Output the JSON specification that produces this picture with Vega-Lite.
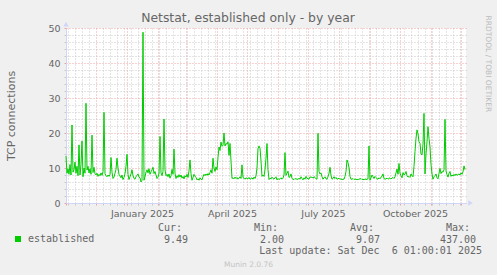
{
"$schema": "https://vega.github.io/schema/vega-lite/v6.json",
"width": 400, "height": 175,
"autosize": {"type": "none"},
"padding": {"left": 66, "top": 28, "right": 31, "bottom": 72},
"background": "#f0f0f0",
"title": {"text": "Netstat, established only - by year", "font": "DejaVu Sans", "fontSize": 12.4, "fontWeight": "normal", "color": "#666666", "anchor": "middle", "frame": "group", "dx": -18, "offset": -19, "baseline": "alphabetic"},
"config": {
  "view": {"fill": "#ffffff", "stroke": null},
  "axis": {"labelFont": "DejaVu Sans", "labelFontSize": 9.5, "labelColor": "#666666", "titleFont": "DejaVu Sans", "titleFontWeight": "normal", "titleColor": "#666666", "domainColor": "#cfd6f8", "gridDash": [1, 2], "tickSize": 2}
},
"layer": [
  {
    "data": {"values": [
{"date":"2024-11-01","value":13.4},{"date":"2024-11-02","value":8.5},{"date":"2024-11-03","value":9.8},{"date":"2024-11-04","value":8.2},{"date":"2024-11-05","value":11},{"date":"2024-11-06","value":8},{"date":"2024-11-07","value":22.3},{"date":"2024-11-08","value":8.8},{"date":"2024-11-09","value":9.5},{"date":"2024-11-10","value":11.7},
{"date":"2024-11-11","value":8.5},{"date":"2024-11-12","value":10.5},{"date":"2024-11-13","value":7.8},{"date":"2024-11-14","value":16.6},{"date":"2024-11-15","value":8},{"date":"2024-11-16","value":11},{"date":"2024-11-17","value":17.7},{"date":"2024-11-18","value":7.5},{"date":"2024-11-19","value":10},{"date":"2024-11-20","value":8.5},
{"date":"2024-11-21","value":28.5},{"date":"2024-11-22","value":9.4},{"date":"2024-11-23","value":10.5},{"date":"2024-11-24","value":8.6},{"date":"2024-11-25","value":9.8},{"date":"2024-11-26","value":8.2},{"date":"2024-11-27","value":19.4},{"date":"2024-11-28","value":8.7},{"date":"2024-11-29","value":10.2},{"date":"2024-11-30","value":8.4},
{"date":"2024-12-01","value":8},{"date":"2024-12-02","value":8.5},{"date":"2024-12-03","value":7.6},{"date":"2024-12-04","value":8.2},{"date":"2024-12-05","value":7.8},{"date":"2024-12-06","value":8.6},{"date":"2024-12-07","value":7.9},{"date":"2024-12-08","value":9},{"date":"2024-12-09","value":25.9},{"date":"2024-12-10","value":8.4},
{"date":"2024-12-11","value":7.8},{"date":"2024-12-12","value":7.5},{"date":"2024-12-13","value":8},{"date":"2024-12-14","value":7.6},{"date":"2024-12-15","value":8.1},{"date":"2024-12-16","value":13},{"date":"2024-12-17","value":8.8},{"date":"2024-12-18","value":7},{"date":"2024-12-19","value":7.4},{"date":"2024-12-20","value":8.5},
{"date":"2024-12-21","value":9.6},{"date":"2024-12-22","value":12.8},{"date":"2024-12-23","value":10},{"date":"2024-12-24","value":8.2},{"date":"2024-12-25","value":7.7},{"date":"2024-12-26","value":7.2},{"date":"2024-12-27","value":8},{"date":"2024-12-28","value":6.7},{"date":"2024-12-29","value":7.3},{"date":"2024-12-30","value":8.4},
{"date":"2024-12-31","value":10.5},{"date":"2025-01-01","value":13.9},{"date":"2025-01-02","value":8.2},{"date":"2025-01-03","value":6.7},{"date":"2025-01-04","value":7.5},{"date":"2025-01-05","value":8.3},{"date":"2025-01-06","value":9.5},{"date":"2025-01-07","value":7.8},{"date":"2025-01-08","value":7},{"date":"2025-01-09","value":6.8},
{"date":"2025-01-10","value":7.5},{"date":"2025-01-11","value":7.9},{"date":"2025-01-12","value":8.3},{"date":"2025-01-13","value":7.4},{"date":"2025-01-14","value":7.2},{"date":"2025-01-15","value":6},{"date":"2025-01-16","value":6.5},{"date":"2025-01-17","value":48.8},{"date":"2025-01-18","value":6.5},{"date":"2025-01-19","value":7.5},
{"date":"2025-01-20","value":8.8},{"date":"2025-01-21","value":9.5},{"date":"2025-01-22","value":8.6},{"date":"2025-01-23","value":9.8},{"date":"2025-01-24","value":8.2},{"date":"2025-01-25","value":8.9},{"date":"2025-01-26","value":9.5},{"date":"2025-01-27","value":10.2},{"date":"2025-01-28","value":8.4},{"date":"2025-01-29","value":9},
{"date":"2025-01-30","value":8},{"date":"2025-01-31","value":7},{"date":"2025-02-01","value":7.4},{"date":"2025-02-02","value":8.5},{"date":"2025-02-03","value":19},{"date":"2025-02-04","value":8.6},{"date":"2025-02-05","value":7.8},{"date":"2025-02-06","value":9},{"date":"2025-02-07","value":24},{"date":"2025-02-08","value":9.5},
{"date":"2025-02-09","value":7.8},{"date":"2025-02-10","value":8.2},{"date":"2025-02-11","value":7.5},{"date":"2025-02-12","value":8.3},{"date":"2025-02-13","value":7.1},{"date":"2025-02-14","value":7.8},{"date":"2025-02-15","value":9.6},{"date":"2025-02-16","value":8.2},{"date":"2025-02-17","value":15.4},{"date":"2025-02-18","value":8.5},
{"date":"2025-02-19","value":7},{"date":"2025-02-20","value":7.8},{"date":"2025-02-21","value":7.3},{"date":"2025-02-22","value":8.1},{"date":"2025-02-23","value":7.4},{"date":"2025-02-24","value":8},{"date":"2025-02-25","value":7.1},{"date":"2025-02-26","value":7.6},{"date":"2025-02-27","value":6.9},{"date":"2025-02-28","value":7.8},
{"date":"2025-03-01","value":7.4},{"date":"2025-03-02","value":8.2},{"date":"2025-03-03","value":7.3},{"date":"2025-03-04","value":9.2},{"date":"2025-03-05","value":12.3},{"date":"2025-03-06","value":8.4},{"date":"2025-03-07","value":6.5},{"date":"2025-03-08","value":7.3},{"date":"2025-03-09","value":8.2},{"date":"2025-03-10","value":7.7},
{"date":"2025-03-11","value":7.3},{"date":"2025-03-12","value":6.6},{"date":"2025-03-13","value":6.9},{"date":"2025-03-14","value":6.5},{"date":"2025-03-15","value":7.2},{"date":"2025-03-16","value":6.8},{"date":"2025-03-17","value":6.6},{"date":"2025-03-18","value":7.5},{"date":"2025-03-19","value":8.2},{"date":"2025-03-20","value":7.8},
{"date":"2025-03-21","value":8.3},{"date":"2025-03-22","value":7.9},{"date":"2025-03-23","value":8.4},{"date":"2025-03-24","value":8},{"date":"2025-03-25","value":8.7},{"date":"2025-03-26","value":9.5},{"date":"2025-03-27","value":8.5},{"date":"2025-03-28","value":12.8},{"date":"2025-03-29","value":10},{"date":"2025-03-30","value":9},
{"date":"2025-03-31","value":10.3},{"date":"2025-04-01","value":9.5},{"date":"2025-04-02","value":13},{"date":"2025-04-03","value":16},{"date":"2025-04-04","value":15},{"date":"2025-04-05","value":17.4},{"date":"2025-04-06","value":16.2},{"date":"2025-04-07","value":16.5},{"date":"2025-04-08","value":20},{"date":"2025-04-09","value":16.3},
{"date":"2025-04-10","value":17},{"date":"2025-04-11","value":16.8},{"date":"2025-04-12","value":17.5},{"date":"2025-04-13","value":13.6},{"date":"2025-04-14","value":17},{"date":"2025-04-15","value":12},{"date":"2025-04-16","value":7},{"date":"2025-04-17","value":7.2},{"date":"2025-04-18","value":6.9},{"date":"2025-04-19","value":7.4},
{"date":"2025-04-20","value":7},{"date":"2025-04-21","value":7.3},{"date":"2025-04-22","value":6.8},{"date":"2025-04-23","value":7.1},{"date":"2025-04-24","value":7.5},{"date":"2025-04-25","value":7},{"date":"2025-04-26","value":10.9},{"date":"2025-04-27","value":7.3},{"date":"2025-04-28","value":7.1},{"date":"2025-04-29","value":6.8},
{"date":"2025-04-30","value":7.2},{"date":"2025-05-01","value":7},{"date":"2025-05-02","value":6.9},{"date":"2025-05-03","value":7.3},{"date":"2025-05-04","value":6.8},{"date":"2025-05-05","value":7},{"date":"2025-05-06","value":7.2},{"date":"2025-05-07","value":6.8},{"date":"2025-05-08","value":7.4},{"date":"2025-05-09","value":7},
{"date":"2025-05-10","value":7.8},{"date":"2025-05-11","value":10},{"date":"2025-05-12","value":15.5},{"date":"2025-05-13","value":16.3},{"date":"2025-05-14","value":15.7},{"date":"2025-05-15","value":12},{"date":"2025-05-16","value":7.6},{"date":"2025-05-17","value":8},{"date":"2025-05-18","value":7.6},{"date":"2025-05-19","value":9.5},
{"date":"2025-05-20","value":12.8},{"date":"2025-05-21","value":17},{"date":"2025-05-22","value":9.5},{"date":"2025-05-23","value":6.7},{"date":"2025-05-24","value":7.1},{"date":"2025-05-25","value":6.9},{"date":"2025-05-26","value":7.4},{"date":"2025-05-27","value":7},{"date":"2025-05-28","value":6.8},{"date":"2025-05-29","value":7.2},
{"date":"2025-05-30","value":7.5},{"date":"2025-05-31","value":6.6},{"date":"2025-06-01","value":7},{"date":"2025-06-02","value":6.7},{"date":"2025-06-03","value":6.9},{"date":"2025-06-04","value":7.2},{"date":"2025-06-05","value":6.8},{"date":"2025-06-06","value":7.1},{"date":"2025-06-07","value":8},{"date":"2025-06-08","value":14.4},
{"date":"2025-06-09","value":7.9},{"date":"2025-06-10","value":8.5},{"date":"2025-06-11","value":9.1},{"date":"2025-06-12","value":7.3},{"date":"2025-06-13","value":7.5},{"date":"2025-06-14","value":8.3},{"date":"2025-06-15","value":7},{"date":"2025-06-16","value":6.8},{"date":"2025-06-17","value":6.7},{"date":"2025-06-18","value":7},
{"date":"2025-06-19","value":6.8},{"date":"2025-06-20","value":6.9},{"date":"2025-06-21","value":6.7},{"date":"2025-06-22","value":7.1},{"date":"2025-06-23","value":6.8},{"date":"2025-06-24","value":7.5},{"date":"2025-06-25","value":7},{"date":"2025-06-26","value":6.6},{"date":"2025-06-27","value":7.2},{"date":"2025-06-28","value":6.8},
{"date":"2025-06-29","value":7.6},{"date":"2025-06-30","value":7.1},{"date":"2025-07-01","value":6.9},{"date":"2025-07-02","value":6.8},{"date":"2025-07-03","value":7.5},{"date":"2025-07-04","value":7.3},{"date":"2025-07-05","value":7.4},{"date":"2025-07-06","value":7.1},{"date":"2025-07-07","value":7.5},{"date":"2025-07-08","value":7.3},
{"date":"2025-07-09","value":6.9},{"date":"2025-07-10","value":6.8},{"date":"2025-07-11","value":19.9},{"date":"2025-07-12","value":9},{"date":"2025-07-13","value":8.3},{"date":"2025-07-14","value":8.6},{"date":"2025-07-15","value":7.5},{"date":"2025-07-16","value":6.8},{"date":"2025-07-17","value":7.2},{"date":"2025-07-18","value":7.5},
{"date":"2025-07-19","value":6.9},{"date":"2025-07-20","value":6.8},{"date":"2025-07-21","value":7.5},{"date":"2025-07-22","value":8.5},{"date":"2025-07-23","value":10.2},{"date":"2025-07-24","value":7.9},{"date":"2025-07-25","value":6.8},{"date":"2025-07-26","value":7},{"date":"2025-07-27","value":7.5},{"date":"2025-07-28","value":7},
{"date":"2025-07-29","value":7.3},{"date":"2025-07-30","value":6.8},{"date":"2025-07-31","value":6.9},{"date":"2025-08-01","value":7.1},{"date":"2025-08-02","value":6.8},{"date":"2025-08-03","value":6.9},{"date":"2025-08-04","value":6.7},{"date":"2025-08-05","value":6.8},{"date":"2025-08-06","value":6.8},{"date":"2025-08-07","value":7.6},
{"date":"2025-08-08","value":9},{"date":"2025-08-09","value":12.3},{"date":"2025-08-10","value":11.5},{"date":"2025-08-11","value":10.2},{"date":"2025-08-12","value":7.6},{"date":"2025-08-13","value":6.8},{"date":"2025-08-14","value":6.8},{"date":"2025-08-15","value":7},{"date":"2025-08-16","value":6.7},{"date":"2025-08-17","value":6.9},
{"date":"2025-08-18","value":6.7},{"date":"2025-08-19","value":6.8},{"date":"2025-08-20","value":6.6},{"date":"2025-08-21","value":6.9},{"date":"2025-08-22","value":6.8},{"date":"2025-08-23","value":7},{"date":"2025-08-24","value":6.7},{"date":"2025-08-25","value":6.8},{"date":"2025-08-26","value":6.6},{"date":"2025-08-27","value":6.9},
{"date":"2025-08-28","value":6.7},{"date":"2025-08-29","value":6.8},{"date":"2025-08-30","value":6.9},{"date":"2025-08-31","value":16.3},{"date":"2025-09-01","value":6.5},{"date":"2025-09-02","value":7.2},{"date":"2025-09-03","value":8},{"date":"2025-09-04","value":7.5},{"date":"2025-09-05","value":7},{"date":"2025-09-06","value":7.6},
{"date":"2025-09-07","value":7.3},{"date":"2025-09-08","value":6.9},{"date":"2025-09-09","value":6.8},{"date":"2025-09-10","value":7.2},{"date":"2025-09-11","value":6.9},{"date":"2025-09-12","value":7.4},{"date":"2025-09-13","value":7.6},{"date":"2025-09-14","value":8.3},{"date":"2025-09-15","value":7},{"date":"2025-09-16","value":6.8},
{"date":"2025-09-17","value":6.9},{"date":"2025-09-18","value":7.1},{"date":"2025-09-19","value":6.8},{"date":"2025-09-20","value":7},{"date":"2025-09-21","value":7.2},{"date":"2025-09-22","value":6.9},{"date":"2025-09-23","value":7.1},{"date":"2025-09-24","value":7.3},{"date":"2025-09-25","value":7},{"date":"2025-09-26","value":7.5},
{"date":"2025-09-27","value":8.6},{"date":"2025-09-28","value":9.7},{"date":"2025-09-29","value":8.2},{"date":"2025-09-30","value":11.3},{"date":"2025-10-01","value":8.5},{"date":"2025-10-02","value":7.8},{"date":"2025-10-03","value":7.2},{"date":"2025-10-04","value":8.7},{"date":"2025-10-05","value":8},{"date":"2025-10-06","value":8.3},
{"date":"2025-10-07","value":9},{"date":"2025-10-08","value":7.8},{"date":"2025-10-09","value":7.4},{"date":"2025-10-10","value":7.6},{"date":"2025-10-11","value":7.3},{"date":"2025-10-12","value":8.3},{"date":"2025-10-13","value":7.8},{"date":"2025-10-14","value":7.5},{"date":"2025-10-15","value":10.5},{"date":"2025-10-16","value":14.7},
{"date":"2025-10-17","value":18.5},{"date":"2025-10-18","value":20.9},{"date":"2025-10-19","value":19.8},{"date":"2025-10-20","value":17.5},{"date":"2025-10-21","value":17.1},{"date":"2025-10-22","value":14},{"date":"2025-10-23","value":13.7},{"date":"2025-10-24","value":16.8},{"date":"2025-10-25","value":25.6},{"date":"2025-10-26","value":8.3},
{"date":"2025-10-27","value":14},{"date":"2025-10-28","value":17.5},{"date":"2025-10-29","value":21.8},{"date":"2025-10-30","value":18.5},{"date":"2025-10-31","value":16},{"date":"2025-11-01","value":11},{"date":"2025-11-02","value":8.3},{"date":"2025-11-03","value":6.8},{"date":"2025-11-04","value":7.5},{"date":"2025-11-05","value":7.8},
{"date":"2025-11-06","value":8.3},{"date":"2025-11-07","value":7.2},{"date":"2025-11-08","value":6.9},{"date":"2025-11-09","value":8.5},{"date":"2025-11-10","value":9.9},{"date":"2025-11-11","value":8.4},{"date":"2025-11-12","value":9},{"date":"2025-11-13","value":8.8},{"date":"2025-11-14","value":9.5},{"date":"2025-11-15","value":23.9},
{"date":"2025-11-16","value":9.2},{"date":"2025-11-17","value":8.1},{"date":"2025-11-18","value":7.4},{"date":"2025-11-19","value":8.5},{"date":"2025-11-20","value":9},{"date":"2025-11-21","value":7.6},{"date":"2025-11-22","value":8},{"date":"2025-11-23","value":7.7},{"date":"2025-11-24","value":8.2},{"date":"2025-11-25","value":7.8},
{"date":"2025-11-26","value":8.3},{"date":"2025-11-27","value":7.9},{"date":"2025-11-28","value":8.1},{"date":"2025-11-29","value":8.3},{"date":"2025-11-30","value":8},{"date":"2025-12-01","value":8.6},{"date":"2025-12-02","value":8.2},{"date":"2025-12-03","value":8.9},{"date":"2025-12-04","value":10.6},{"date":"2025-12-05","value":9.5}
    ]},
    "mark": {"type": "line", "strokeWidth": 1, "color": "#00cc00"},
    "encoding": {
      "x": {"field": "date", "type": "temporal",
            "scale": {"type": "utc", "domain": [{"year": 2024, "month": 11, "date": 1, "utc": true}, {"year": 2025, "month": 12, "date": 6, "utc": true}]},
            "axis": {
              "tickCount": {"interval": "day", "step": 1},
              "grid": true,
              "gridColor": {"condition": {"test": "utcdate(datum.value) === 1", "value": "#f0a0a0"}, "value": "#c8c8c8"},
              "gridOpacity": {"condition": {"test": "utcdate(datum.value) === 1 || utcday(datum.value) === 0", "value": 1}, "value": 0},
              "tickColor": {"condition": {"test": "utcdate(datum.value) === 1", "value": "#f0a0a0"}, "value": "#c8c8c8"},
              "tickOpacity": {"condition": {"test": "utcdate(datum.value) === 1 || utcday(datum.value) === 0", "value": 1}, "value": 0},
              "labelExpr": "(utcdate(datum.value) === 16 && utcmonth(datum.value) % 3 === 0) ? utcFormat(datum.value, '%B %Y') : ''",
              "labelOverlap": false, "labelFlush": false, "labelBound": false, "labelPadding": 3,
              "title": "Munin 2.0.76", "titleX": 182, "titleY": 61, "titleAlign": "center", "titleBaseline": "middle",
              "titleFontSize": 7.5, "titleColor": "#c4c4c4"
            }},
      "y": {"field": "value", "type": "quantitative",
            "scale": {"domain": [0, 50]},
            "axis": {
              "orient": "left",
              "values": [0,2,4,6,8,10,12,14,16,18,20,22,24,26,28,30,32,34,36,38,40,42,44,46,48,50],
              "grid": true,
              "gridColor": {"condition": {"test": "datum.value % 10 === 0", "value": "#f0a0a0"}, "value": "#c8c8c8"},
              "tickColor": {"condition": {"test": "datum.value % 10 === 0", "value": "#f0a0a0"}, "value": "#c8c8c8"},
              "labelExpr": "datum.value % 10 === 0 ? datum.label : ''",
              "labelOverlap": false, "labelPadding": 4,
              "title": "TCP connections", "titleFontSize": 11, "titlePadding": 31.5
            }},
      "color": {"datum": "established", "type": "nominal",
                "scale": {"range": ["#00cc00"]},
                "legend": {"orient": "none", "legendX": -53, "legendY": 206, "title": null,
                           "symbolType": "square", "symbolSize": 36, "symbolStrokeWidth": 0, "symbolFillColor": "#00cc00",
                           "labelFont": "DejaVu Sans Mono", "labelFontSize": 10, "labelColor": "#666666", "labelOffset": 5, "padding": 0,
                           "encode": {"symbols": {"update": {"fill": {"value": "#00cc00"}, "strokeWidth": {"value": 0}}}}}}
    }
  },
  {
    "data": {"values": [{"arrow": "y"}]},
    "mark": {"type": "point", "shape": "triangle-up", "size": 28, "filled": true, "color": "#cfd6f8", "opacity": 1},
    "encoding": {
      "x": {"datum": {"year": 2024, "month": 11, "date": 1, "utc": true}, "type": "temporal", "scale": {"type": "utc", "domain": [{"year": 2024, "month": 11, "date": 1, "utc": true}, {"year": 2025, "month": 12, "date": 6, "utc": true}]}, "axis": null},
      "y": {"datum": 51.1, "type": "quantitative", "scale": {"domain": [0, 50]}, "axis": null}
    }
  },
  {
    "data": {"values": [{"arrow": "x"}]},
    "mark": {"type": "point", "shape": "triangle-right", "size": 28, "filled": true, "color": "#cfd6f8", "opacity": 1},
    "encoding": {
      "x": {"datum": {"year": 2025, "month": 12, "date": 10, "hours": 12, "utc": true}, "type": "temporal", "scale": {"type": "utc", "domain": [{"year": 2024, "month": 11, "date": 1, "utc": true}, {"year": 2025, "month": 12, "date": 6, "utc": true}]}, "axis": null},
      "y": {"datum": 0, "type": "quantitative", "scale": {"domain": [0, 50]}, "axis": null}
    }
  },
  {
    "data": {"values": []},
    "mark": "point",
    "encoding": {
      "y": {"datum": 0, "type": "quantitative", "scale": {"domain": [0, 50]},
            "axis": {"orient": "right", "domain": false, "ticks": false, "labels": false, "grid": false,
                     "title": "RRDTOOL / TOBI OETIKER", "titleAngle": 90, "titleX": 21, "titleY": -13,
                     "titleAlign": "left", "titleBaseline": "middle", "titleFontSize": 7.5, "titleColor": "#bbbbbb"}}
    }
  },
  {
    "data": {"values": [{"stat": "Cur:", "value": 9.49}, {"stat": "Min:", "value": 2.00}, {"stat": "Avg:", "value": 9.07}, {"stat": "Max:", "value": 437.00}]},
    "layer": [
      {
        "mark": {"type": "text", "align": "right", "baseline": "middle", "font": "DejaVu Sans Mono", "fontSize": 10, "color": "#666666", "dx": -6},
        "encoding": {
          "x": {"field": "stat", "type": "nominal", "scale": {"type": "point", "domain": ["Cur:", "Min:", "Avg:", "Max:"], "range": [122, 410], "padding": 0}, "axis": null},
          "y": {"datum": -7.0, "type": "quantitative", "scale": {"domain": [0, 50]}, "axis": null},
          "text": {"field": "stat"}
        }
      },
      {
        "mark": {"type": "text", "align": "right", "baseline": "middle", "font": "DejaVu Sans Mono", "fontSize": 10, "color": "#666666"},
        "encoding": {
          "x": {"field": "stat", "type": "nominal", "scale": {"type": "point", "domain": ["Cur:", "Min:", "Avg:", "Max:"], "range": [122, 410], "padding": 0}, "axis": null},
          "y": {"datum": -10.43, "type": "quantitative", "scale": {"domain": [0, 50]}, "axis": null},
          "text": {"field": "value", "type": "quantitative", "format": ".2f"}
        }
      },
      {
        "data": {"values": [{"label": "Last update: Sat Dec \u00a06 01:00:01 2025"}]},
        "mark": {"type": "text", "align": "right", "baseline": "middle", "font": "DejaVu Sans Mono", "fontSize": 10, "color": "#666666", "dx": 6},
        "encoding": {
          "x": {"datum": "Max:", "type": "nominal", "scale": {"type": "point", "domain": ["Cur:", "Min:", "Avg:", "Max:"], "range": [122, 410], "padding": 0}, "axis": null},
          "y": {"datum": -13.8, "type": "quantitative", "scale": {"domain": [0, 50]}, "axis": null},
          "text": {"field": "label"}
        }
      }
    ]
  }
],
"resolve": {"scale": {"x": "independent"}, "axis": {"y": "independent"}}
}
